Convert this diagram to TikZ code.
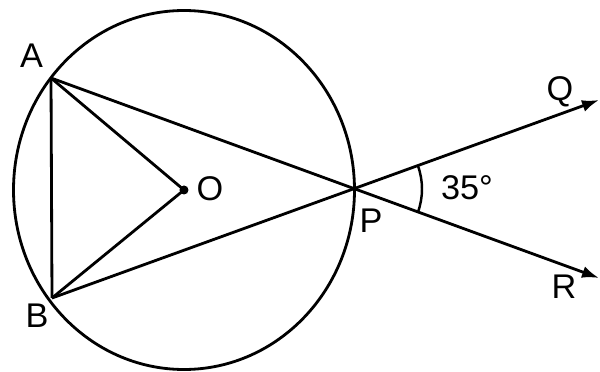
\documentclass[tikz,border=0pt]{standalone}
\usepackage{fontspec}
\setmainfont{Liberation Sans}
\usetikzlibrary{arrows.meta}
\begin{document}
\begin{tikzpicture}[x=0.02cm,y=-0.02cm,
  geo/.style={line width=1.6pt,line join=round},
  lbl/.style={anchor=base,inner sep=0pt,font=\fontsize{19.5}{23}\selectfont},
  arr/.style={geo,-{Latex[length=0.34cm,width=0.24cm]}}]
\useasboundingbox (0,0) rectangle (600,372);
% points
\coordinate (C) at (184,190);
\coordinate (A) at (51,78);
\coordinate (B) at (52,298);
\coordinate (O) at (184,190);
\coordinate (P) at (354,189);
\coordinate (Qt) at (599,100);
\coordinate (Rt) at (599,278);
% circle
\draw[geo] (C) ellipse [x radius=170.5, y radius=179.5];
% segments
\draw[geo] (A) -- (B);
\draw[geo] (A) -- (O) -- (B);
\draw[arr] (A) -- (Rt);
\draw[arr] (B) -- (Qt);
\fill (O) circle[radius=4.5];
% angle arc
\draw[geo,line width=1.4pt] ([shift={(-20:68)}]P) arc[start angle=-20,end angle=20,radius=68];
% labels
\node[lbl] (lA) at (31.5,68) {A};
\node[lbl] (lB) at (37,328) {B};
\node[lbl] (lO) at (210,201) {O};
\node[lbl] (lP) at (371,233) {P};
\node[lbl] (lQ) at (560,100) {Q};
\node[lbl] (lR) at (564,298) {R};
\node[lbl] (lang) at (467,199) {35°};
\end{tikzpicture}
\end{document}
